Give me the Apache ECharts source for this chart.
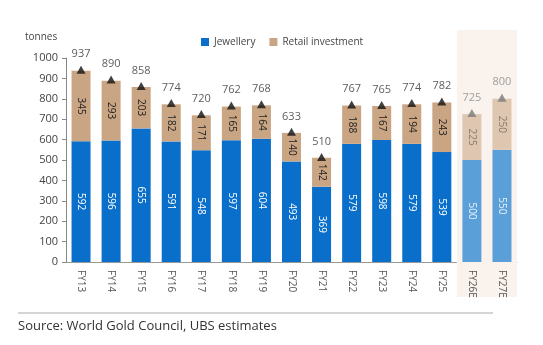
<!DOCTYPE html>
<html><head><meta charset="utf-8">
<script src="https://cdn.jsdelivr.net/npm/echarts@6/dist/echarts.min.js"></script>
<style>html,body{margin:0;padding:0;background:#fff}#c{width:543px;height:345px}</style>
</head><body><div id="c"></div>
<script>
const categories = ['FY13','FY14','FY15','FY16','FY17','FY18','FY19','FY20','FY21','FY22','FY23','FY24','FY25','FY26E','FY27E'];
const jewellery = [592,596,655,591,548,597,604,493,369,579,598,579,539,500,550];
const retail = [345,293,203,182,171,165,164,140,142,188,167,194,243,225,250];
const totals = [937,890,858,774,720,762,768,633,510,767,765,774,782,725,800];
const forecastFlag = [0,0,0,0,0,0,0,0,0,0,0,0,0,1,1];
const yTicks = [0,100,200,300,400,500,600,700,800,900,1000];

const BLUE='#0a6fca', BLUE_F='#5b9fd9', TAN='#c9a584', TAN_F='#dec6b1';
const font = 'Open Sans';

const jewData = jewellery.map((v,i)=>({value:v,
  itemStyle:{color:forecastFlag[i]?BLUE_F:BLUE},
  label:{color:forecastFlag[i]?'#e8f1fa':'#fff'}}));
const retData = retail.map((v,i)=>({value:v,
  itemStyle:{color:forecastFlag[i]?TAN_F:TAN},
  label:{color:forecastFlag[i]?'#8a7a6c':'#222'}}));
const totData = totals.map((v,i)=>({value:v,
  itemStyle:{color:forecastFlag[i]?'#7a7a7a':'#111'},
  label:{color:forecastFlag[i]?'#888':'#333'}}));
const shadeData = forecastFlag.map(f=>f?1:null);

const chart = echarts.init(document.getElementById('c'));
chart.setOption({
  animation:false,
  textStyle:{fontFamily:font},
  title:{text:'tonnes',left:20,top:27,textStyle:{fontSize:10,fontWeight:'normal',color:'#444',fontFamily:font}},
  legend:{top:32,left:196,itemWidth:8,itemHeight:8,itemGap:14,icon:'rect',
    textStyle:{fontSize:10,color:'#444',fontFamily:font},
    data:[{name:'Jewellery',itemStyle:{color:BLUE}},{name:'Retail investment',itemStyle:{color:TAN}}]},
  grid:[{left:66,right:26,top:58,bottom:83},{left:66,right:26,top:30,bottom:48}],
  xAxis:[{type:'category',data:categories,gridIndex:0,
    axisLine:{lineStyle:{color:'#999'}},axisTick:{show:false},
    axisLabel:{rotate:-90,fontSize:10,color:'#555',margin:8,
      formatter:(v)=>v}},
    {type:'category',data:categories,gridIndex:1,show:false}],
  yAxis:[{type:'value',min:0,max:1000,interval:100,gridIndex:0,
    splitLine:{show:false},
    axisLine:{show:true,lineStyle:{color:'#888'}},
    axisTick:{show:true,length:4,lineStyle:{color:'#888'}},
    axisLabel:{fontSize:11,color:'#444',margin:8,formatter:(v)=>String(v)}},
    {type:'value',min:0,max:1,gridIndex:1,show:false}],
  series:[
    {type:'bar',xAxisIndex:1,yAxisIndex:1,data:shadeData,barWidth:'100%',barGap:'0%',
     itemStyle:{color:'#f9f2ed'},silent:true,z:0},
    {name:'Jewellery',type:'bar',stack:'a',data:jewData,barWidth:19,
     label:{show:true,position:'inside',rotate:-90,fontSize:10},z:2},
    {name:'Retail investment',type:'bar',stack:'a',data:retData,barWidth:19,
     label:{show:true,position:'inside',rotate:-90,fontSize:10},z:2},
    {name:'Total',type:'scatter',data:totData,symbol:'triangle',symbolSize:[9,8],symbolOffset:[0,-1],
     label:{show:true,position:'top',distance:6,fontSize:11},z:3}
  ],
  graphic:[
    {type:'line',shape:{x1:18,y1:313,x2:493,y2:313},style:{stroke:'#aaa',lineWidth:1}},
    {type:'text',left:18,top:320,style:{text:'Source: World Gold Council, UBS estimates',fontSize:13,fill:'#333',fontFamily:font}}
  ]
});
</script></body></html>
